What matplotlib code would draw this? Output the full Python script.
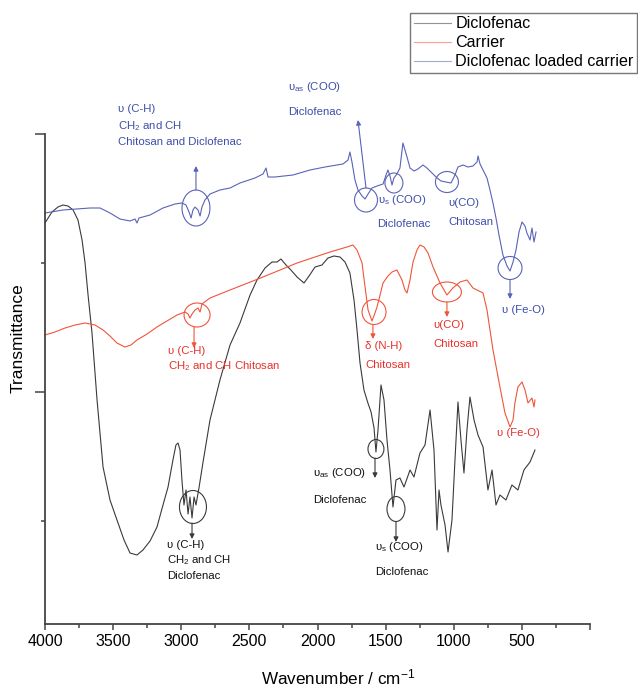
import matplotlib
matplotlib.use("Agg")
import matplotlib.pyplot as plt
from matplotlib.patches import Ellipse
from matplotlib.ticker import MultipleLocator, FixedLocator, FuncFormatter

plt.rcParams["font.family"] = ["Liberation Sans", "DejaVu Sans"]
plt.rcParams["mathtext.fontset"] = "custom"
plt.rcParams["mathtext.rm"] = "Liberation Sans"
plt.rcParams["mathtext.it"] = "Liberation Sans:italic"

# Transmittance in arbitrary units (spectra offset as in the original figure)
dic_wn = [4000, 3949, 3905, 3868, 3831, 3794, 3758, 3728, 3706, 3684, 3655, 3618, 3574,
          3523, 3464, 3420, 3376, 3325, 3281, 3229, 3178, 3134, 3097, 3061, 3039, 3024,
          3009, 2995, 2980, 2965, 2950, 2936, 2921, 2906, 2892, 2870, 2840, 2789, 2716,
          2642, 2569, 2495, 2444, 2385, 2334, 2297, 2268, 2231, 2195, 2150, 2099, 2062,
          2018, 1967, 1923, 1879, 1835, 1798, 1762, 1732, 1710, 1688, 1659, 1630, 1607,
          1585, 1571, 1556, 1534, 1512, 1490, 1468, 1446, 1424, 1395, 1365, 1321, 1292,
          1248, 1211, 1174, 1145, 1123, 1108, 1094, 1064, 1042, 1013, 991, 969, 947, 925,
          903, 881, 851, 822, 785, 749, 719, 690, 661, 617, 573, 529, 485, 440, 404]
dic_t = [427, 438, 443, 445, 444, 440, 430, 410, 387, 355, 317, 250, 183,
         150, 127, 110, 97, 95, 100, 109, 123, 145, 163, 190, 205, 207,
         200, 170, 145, 160, 136, 153, 132, 153, 145, 162, 188, 230, 270,
         305, 327, 355, 370, 382, 388, 388, 391, 385, 380, 373, 367, 374,
         383, 385, 392, 394, 393, 388, 377, 350, 320, 287, 260, 247, 238,
         222, 198, 220, 265, 250, 210, 180, 143, 170, 172, 163, 180, 173,
         197, 205, 240, 200, 120, 160, 145, 125, 98, 130, 190, 248, 210, 177,
         220, 253, 230, 215, 203, 160, 180, 145, 155, 150, 165, 160, 180, 188, 200]

car_wn = [4000, 3927, 3853, 3780, 3706, 3633, 3574, 3523, 3472, 3413, 3369, 3325, 3251,
          3178, 3105, 3031, 2973, 2950, 2936, 2921, 2899, 2877, 2862, 2848, 2789, 2642,
          2400, 2150, 1908, 1784, 1740, 1710, 1673, 1651, 1629, 1600, 1578, 1563, 1519,
          1483, 1453, 1417, 1380, 1358, 1343, 1321, 1299, 1270, 1248, 1218, 1189, 1152,
          1101, 1050, 1006, 954, 903, 859, 829, 785, 756, 712, 661, 624, 587, 565, 551,
          529, 499, 477, 455, 426, 411, 404]
car_t = [315, 318, 322, 325, 327, 325, 320, 314, 307, 303, 305, 310, 316,
         323, 329, 335, 338, 336, 332, 336, 340, 342, 338, 346, 352, 360,
         373, 387, 398, 403, 405, 400, 387, 363, 340, 329, 337, 343, 367,
         374, 378, 380, 370, 360, 357, 370, 388, 400, 405, 403, 397, 383,
         367, 355, 362, 368, 370, 362, 360, 357, 340, 300, 263, 237, 223, 230, 247,
         263, 268, 260, 247, 252, 243, 250]

load_wn = [4000, 3868, 3670, 3596, 3523, 3450, 3376, 3339, 3325, 3310, 3229, 3134, 3046,
           2995, 2965, 2943, 2928, 2914, 2899, 2877, 2862, 2848, 2826, 2789, 2716, 2642,
           2569, 2459, 2400, 2378, 2363, 2312, 2180, 2055, 1945, 1813, 1776, 1762, 1747,
           1725, 1703, 1673, 1651, 1629, 1600, 1563, 1519, 1497, 1483, 1468, 1453, 1439,
           1417, 1395, 1373, 1358, 1343, 1321, 1292, 1263, 1226, 1197, 1167, 1130, 1094,
           1057, 1020, 991, 969, 932, 896, 859, 829, 822, 807, 785, 756, 734, 712, 690,
           668, 639, 609, 587, 565, 543, 521, 499, 477, 463, 440, 426, 411, 396]
load_t = [437, 440, 442, 442, 437, 431, 429, 431, 427, 432, 435, 442, 446,
          447, 445, 438, 432, 440, 443, 440, 434, 443, 450, 456, 460, 462,
          467, 472, 476, 482, 473, 473, 475, 480, 483, 486, 490, 498, 488,
          470, 460, 454, 451, 456, 462, 464, 466, 475, 480, 474, 465, 472,
          476, 482, 507, 500, 493, 482, 479, 481, 485, 482, 478, 473, 469,
          468, 467, 475, 483, 485, 483, 484, 488, 494, 486, 480, 472, 460, 447, 432,
          415, 395, 384, 379, 388, 400, 418, 428, 424, 417, 410, 422, 408, 418]

labels = ["Diclofenac", "Carrier", "Diclofenac loaded carrier"]

BLACK = "#3a3a3a"
RED = "#f0553a"
BLUE = "#5a63b8"
RED_TXT = "#e8302a"
BLUE_TXT = "#3d4ea8"

fig = plt.figure(figsize=(6.38, 6.87), dpi=100)
ax = fig.add_axes([45 / 638, 63 / 687, 545 / 638, 490 / 687])

l1, = ax.plot(dic_wn, dic_t, color=BLACK, lw=0.8, clip_on=False)
l2, = ax.plot(car_wn, car_t, color=RED, lw=0.8, clip_on=False)
l3, = ax.plot(load_wn, load_t, color=BLUE, lw=0.8, clip_on=False)

ax.set_xlim(4000, 0)
ax.set_ylim(26, 516)
ax.xaxis.set_major_locator(MultipleLocator(500))
ax.xaxis.set_minor_locator(MultipleLocator(250))
ax.xaxis.set_major_formatter(FuncFormatter(lambda v, p: "" if v < 1 else f"{v:.0f}"))
ax.yaxis.set_major_locator(FixedLocator([258, 516]))
ax.yaxis.set_minor_locator(FixedLocator([129, 387]))
ax.yaxis.set_major_formatter(FuncFormatter(lambda v, p: ""))

for s in ["top", "right"]:
    ax.spines[s].set_visible(False)
for s in ["left", "bottom"]:
    ax.spines[s].set_color("#444444")
    ax.spines[s].set_linewidth(1.3)

ax.tick_params(axis="x", which="major", length=4, width=1.1, color="#444444",
               labelsize=11.5, pad=3)
ax.tick_params(axis="x", which="minor", length=3, width=1.1, color="#444444")
ax.tick_params(axis="y", which="major", length=7, width=1.1, color="#444444")
ax.tick_params(axis="y", which="minor", length=3, width=1.1, color="#444444")

fig.text(338 / 638, 1 - 677 / 687, "Wavenumber / cm$^{-1}$", ha="center", va="center",
         fontsize=12.3)
fig.text(18 / 638, 1 - 338 / 687, "Transmittance", rotation=90, ha="center", va="center",
         fontsize=12.5)

leg = fig.legend([l1, l2, l3], labels, loc="upper right",
                 bbox_to_anchor=(637 / 638, 1 - 13 / 687), fontsize=11.6,
                 frameon=True, fancybox=False, borderpad=0.2, handlelength=2.3,
                 handletextpad=0.3, labelspacing=0.25, borderaxespad=0)
leg.get_frame().set_edgecolor("#555555")
leg.get_frame().set_linewidth(1.0)
for h in leg.get_lines():
    h.set_alpha(0.55)

# band markers: (wavenumber, transmittance, width, height, colour)
circles = [
    (2892, 442, 205, 36, BLUE), (1644, 450, 169, 24, BLUE), (1439, 467, 132, 20, BLUE),
    (1050, 468, 169, 21, BLUE), (587, 382, 176, 23, BLUE),
    (2884, 335, 191, 24, RED), (1585, 338, 176, 25, RED), (1050, 358, 213, 20, RED),
    (2914, 143, 198, 33, BLACK), (1571, 201, 117, 19, BLACK), (1424, 141, 132, 25, BLACK),
]
for cx, cy, w, h, c in circles:
    ax.add_patch(Ellipse((cx, cy), w, h, fill=False, ec=c, lw=0.8, clip_on=False))

arrows = [
    ((2892, 460), (2892, 484), BLUE), ((1644, 462), (1703, 530), BLUE),
    ((587, 370), (587, 351), BLUE),
    ((2906, 323), (2906, 302), RED), ((1593, 325), (1593, 311), RED),
    ((1050, 348), (1050, 333), RED),
    ((2921, 127), (2921, 111), BLACK), ((1578, 192), (1578, 172), BLACK),
    ((1424, 128), (1424, 108), BLACK),
]
for start, end, c in arrows:
    ax.annotate("", xy=end, xytext=start, annotation_clip=False,
                arrowprops=dict(arrowstyle="-|>", color=c, lw=0.8, mutation_scale=7,
                                shrinkA=0, shrinkB=0))

notes = [
    (3464, 541, "υ (C-H)", BLUE_TXT), (3464, 524, "CH$_2$ and CH", BLUE_TXT),
    (3464, 508, "Chitosan and Diclofenac", BLUE_TXT),
    (2216, 563, "υ$_{\\mathrm{as}}$ (COO)", BLUE_TXT), (2216, 538, "Diclofenac", BLUE_TXT),
    (1556, 450, "υ$_{\\mathrm{s}}$ (COO)", BLUE_TXT), (1563, 426, "Diclofenac", BLUE_TXT),
    (1042, 447, "υ(CO)", BLUE_TXT), (1042, 428, "Chitosan", BLUE_TXT),
    (646, 340, "υ (Fe-O)", BLUE_TXT),
    (3097, 299, "υ (C-H)", RED_TXT), (3097, 284, "CH$_2$ and CH Chitosan", RED_TXT),
    (1651, 304, "δ (N-H)", RED_TXT), (1651, 285, "Chitosan", RED_TXT),
    (1152, 325, "υ(CO)", RED_TXT), (1152, 306, "Chitosan", RED_TXT),
    (683, 217, "υ (Fe-O)", RED_TXT),
    (3105, 105, "υ (C-H)", "#111111"), (3105, 90, "CH$_2$ and CH", "#111111"),
    (3105, 74, "Diclofenac", "#111111"),
    (2033, 177, "υ$_{\\mathrm{as}}$ (COO)", "#111111"), (2033, 150, "Diclofenac", "#111111"),
    (1578, 103, "υ$_{\\mathrm{s}}$ (COO)", "#111111"), (1578, 78, "Diclofenac", "#111111"),
]
for x, y, s, c in notes:
    ax.text(x, y, s, color=c, fontsize=8.2, ha="left", va="center", clip_on=False)

fig.savefig("out.png", dpi=100, facecolor="white")
